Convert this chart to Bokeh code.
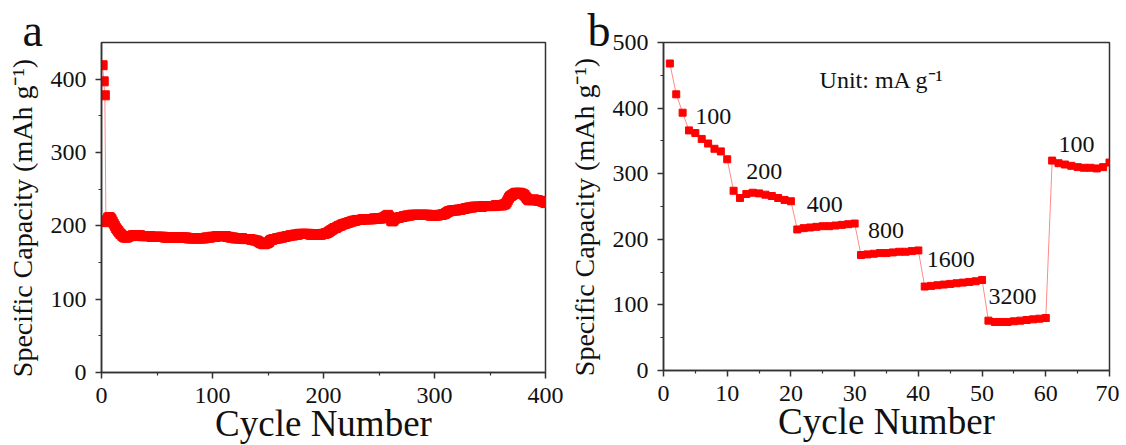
from bokeh.plotting import figure
from bokeh.models import Range1d, Label, FixedTicker, Title
from bokeh.layouts import row
from bokeh.embed import file_html
from bokeh.resources import INLINE

# ---------------- data ----------------
cycles_a = list(range(1, 401))
capacity_a = [
    419, 397, 378, 205, 208, 211, 212, 211, 209, 206,
    203, 200, 197, 195, 193, 191, 189, 188, 186, 185,
    184, 184, 184, 185, 186, 186, 186, 187, 187, 187,
    187, 187, 187, 187, 187, 186, 186, 186, 186, 186,
    186, 186, 186, 186, 185, 185, 185, 185, 185, 185,
    185, 185, 185, 185, 185, 185, 184, 184, 184, 184,
    184, 184, 184, 184, 184, 184, 184, 184, 184, 184,
    184, 184, 184, 184, 184, 184, 184, 183, 183, 183,
    183, 183, 183, 183, 183, 183, 183, 183, 183, 183,
    183, 183, 183, 184, 184, 184, 184, 184, 185, 185,
    185, 185, 185, 186, 186, 186, 186, 186, 186, 186,
    186, 186, 185, 185, 185, 184, 184, 184, 184, 183,
    183, 183, 183, 183, 183, 183, 183, 182, 182, 182,
    182, 182, 182, 182, 181, 181, 181, 180, 180, 180,
    179, 178, 177, 176, 176, 175, 175, 176, 176, 177,
    178, 180, 181, 181, 182, 182, 182, 183, 183, 183,
    184, 184, 184, 185, 185, 185, 186, 186, 186, 187,
    187, 187, 187, 188, 188, 188, 188, 189, 189, 189,
    189, 189, 189, 189, 189, 189, 189, 188, 188, 188,
    188, 188, 188, 188, 188, 188, 188, 188, 189, 189,
    189, 190, 190, 191, 192, 193, 194, 195, 196, 197,
    197, 198, 199, 200, 200, 201, 202, 202, 203, 203,
    204, 204, 205, 205, 206, 206, 207, 207, 207, 208,
    208, 208, 208, 208, 209, 209, 209, 209, 209, 209,
    209, 209, 209, 209, 210, 210, 210, 210, 210, 210,
    210, 210, 211, 211, 212, 213, 214, 215, 213, 210,
    207, 206, 207, 209, 210, 211, 211, 211, 212, 212,
    212, 213, 213, 213, 214, 214, 214, 214, 215, 215,
    215, 215, 215, 215, 215, 215, 215, 215, 215, 215,
    215, 215, 215, 215, 215, 214, 214, 214, 214, 214,
    214, 214, 214, 215, 215, 215, 215, 216, 216, 217,
    218, 219, 220, 220, 221, 221, 221, 221, 221, 221,
    222, 222, 222, 222, 223, 223, 223, 224, 224, 224,
    225, 225, 225, 225, 226, 226, 226, 226, 226, 226,
    226, 226, 226, 227, 227, 227, 227, 227, 227, 227,
    227, 227, 227, 227, 228, 228, 228, 228, 228, 228,
    228, 229, 229, 230, 232, 235, 238, 240, 241, 242,
    243, 244, 245, 245, 245, 245, 245, 244, 244, 243,
    242, 240, 238, 236, 235, 235, 235, 235, 236, 236,
    235, 235, 235, 234, 234, 234, 233, 233, 232, 231,
]

cycles_b = list(range(1, 71))
capacity_b = [
    468, 421, 393, 366, 362, 353, 346, 338, 334, 322,
    274, 263, 269, 271, 270, 268, 266, 263, 260, 258,
    215, 217, 218, 219, 220, 220, 221, 222, 223, 224,
    176, 177, 178, 179, 179, 180, 181, 181, 182, 183,
    128, 129, 130, 131, 132, 133, 134, 135, 136, 138,
    76, 74, 74, 74, 75, 76, 77, 78, 79, 80,
    320, 316, 314, 312, 310, 309, 309, 308, 310, 317,
]

rate_labels = ["100", "200", "400", "800", "1600", "3200", "100"]

xticks_a = [0, 100, 200, 300, 400]
yticks_a = [0, 100, 200, 300, 400]
xticks_b = [0, 10, 20, 30, 40, 50, 60, 70]
yticks_b = [0, 100, 200, 300, 400, 500]

# ---------------- styling ----------------
FONT = "Liberation Serif"
AX = "#333333"
TXT = "#111111"
MARK = "#ff0000"
LINE = "#ff8a8a"
YLABEL = "Specific Capacity (mAh g\u207b\u00b9)\u00a0\u00a0\u00a0"


def make_fig(letter, letter_offset, xmax, ymax, xt, xminor, yt, yminor,
             fw, fh, bl, br, bt):
    p = figure(frame_width=fw, frame_height=fh,
               x_range=Range1d(0, xmax), y_range=Range1d(0, ymax),
               output_backend="svg", toolbar_location=None,
               min_border_left=bl, min_border_right=br,
               min_border_top=bt, min_border_bottom=0)
    p.title = Title(text=letter, align="left", offset=letter_offset,
                    text_font=FONT, text_font_size="46px",
                    text_font_style="normal", text_color=TXT,
                    standoff=-26, vertical_align="bottom")
    p.xaxis.ticker = FixedTicker(ticks=xt, minor_ticks=xminor)
    p.yaxis.ticker = FixedTicker(ticks=yt, minor_ticks=yminor)
    p.grid.visible = False
    p.background_fill_color = "white"
    p.border_fill_color = "white"
    p.outline_line_color = AX
    p.outline_line_width = 1.5
    p.outline_line_alpha = 1.0
    for ax in (p.xaxis[0], p.yaxis[0]):
        ax.axis_line_color = AX
        ax.axis_line_width = 1.5
        ax.major_tick_line_color = AX
        ax.minor_tick_line_color = AX
        ax.major_tick_line_width = 1.5
        ax.minor_tick_line_width = 1.2
        ax.major_tick_out = 6
        ax.major_tick_in = 0
        ax.minor_tick_out = 3
        ax.minor_tick_in = 0
        ax.major_label_text_font = FONT
        ax.major_label_text_font_size = "24px"
        ax.major_label_text_color = TXT
        ax.axis_label_text_font = FONT
        ax.axis_label_text_font_style = "normal"
        ax.axis_label_text_color = TXT
    p.xaxis.major_label_standoff = 9
    p.yaxis.major_label_standoff = 9
    p.xaxis.axis_label = "Cycle Number"
    p.xaxis.axis_label_text_font_size = "37px"
    p.xaxis.axis_label_standoff = -3
    p.yaxis.axis_label = YLABEL
    p.yaxis.axis_label_text_font_size = "28px"
    p.yaxis.axis_label_standoff = 10
    return p


# ---- panel a ----
pa = make_fig("a", -79, 400, 450, xticks_a, [50, 150, 250, 350],
              yticks_a, [50, 150, 250, 350], 444, 330, 101, 20, 42)
pa.line(cycles_a, capacity_a, line_color=LINE, line_width=1)
pa.scatter(cycles_a, capacity_a, marker="square", size=9,
           fill_color=MARK, line_color=MARK)

# ---- panel b ----
pb = make_fig("b", -76, 70, 500, xticks_b, [5, 15, 25, 35, 45, 55, 65],
              yticks_b, [50, 150, 250, 350, 450], 446, 328, 98, 10, 42)
pb.line(cycles_b, capacity_b, line_color=LINE, line_width=1)
pb.scatter(cycles_b, capacity_b, marker="square", size=7,
           fill_color=MARK, line_color=MARK)

label_x = [5.0, 13.0, 22.5, 32.1, 41.3, 51.0, 62.0]
label_y = [387, 304, 253, 214, 169, 113, 345]
for t, lx, ly in zip(rate_labels, label_x, label_y):
    pb.add_layout(Label(x=lx, y=ly, text=t, text_font=FONT,
                        text_font_size="24px", text_color=TXT,
                        text_align="left", text_baseline="alphabetic"))
pb.add_layout(Label(x=24.5, y=443, text="Unit: mA g\u207b\u00b9", text_font=FONT,
                    text_font_size="24px", text_color=TXT,
                    text_align="left", text_baseline="alphabetic"))

layout = row(pa, pb)
open("out.html", "w").write(file_html(layout, INLINE))
